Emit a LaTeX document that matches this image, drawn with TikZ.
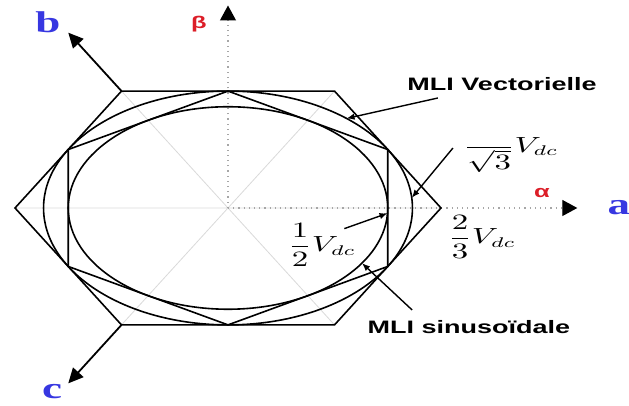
\documentclass[tikz,border=0pt]{standalone}
\usepackage{fontspec}
\newfontfamily\arialfont{Liberation Sans}
\newfontfamily\timesfont{Liberation Serif}
\usetikzlibrary{arrows.meta}
\definecolor{axisblue}{RGB}{55,55,225}
\definecolor{axisred}{RGB}{220,30,40}

\begin{document}
\begin{tikzpicture}[x=0.5pt, y=0.5pt, >={Latex[length=4pt,width=3.2pt]},
    wide/.style={inner sep=0pt, xscale=1.5, transform shape},
    mli/.style={wide, font=\fontsize{9}{10}\selectfont\bfseries\arialfont},
    greek/.style={wide, text=axisred, font=\fontsize{8.5}{9}\selectfont\bfseries\arialfont},
    phase/.style={wide, text=axisblue, font=\fontsize{15}{16}\selectfont\bfseries\timesfont},
    val/.style={wide, font=\fontsize{10.5}{12}\selectfont},
    hexline/.style={line width=0.8pt},
    guide/.style={gray!30, line width=0.4pt},
    axe/.style={dotted, draw=gray!70, line width=0.6pt, -{Triangle[length=7.5pt,width=8pt,color=black,fill=black]}},
    phasearrow/.style={line width=0.9pt, -{Triangle[length=7.5pt,width=7pt]}}]
    \useasboundingbox (0,0) rectangle (629,406);

    \begin{scope}[shift={(228,198)}, x=106.5pt, y=67.5pt]
        % 顶点定义
        \coordinate (O) at (0,0);
        \foreach \i in {0,...,5} {
            \coordinate (H\i) at (\i*60:1);
            \coordinate (R\i) at (30+\i*60:0.866);
        }
        % 辅助线
        \draw[guide] (H0) -- (H3) (H1) -- (H4) (H2) -- (H5);
        % alpha-beta 轴与 a, b, c 轴
        \coordinate (alphatip) at (1.64,0);
        \coordinate (betatip) at (0,1.5);
        \coordinate (btip) at (120:1.5);
        \coordinate (ctip) at (240:1.5);
        \draw[axe] (O) -- (alphatip);
        \draw[axe] (O) -- (betatip);
        \draw[phasearrow] (H2) -- (btip);
        \draw[phasearrow] (H4) -- (ctip);
        % 六边形与圆
        \draw[hexline] (H0) -- (H1) -- (H2) -- (H3) -- (H4) -- (H5) -- cycle;
        \draw[hexline] (R0) -- (R1) -- (R2) -- (R3) -- (R4) -- (R5) -- cycle;
        \draw[hexline] (O) circle[radius=0.866];
        \draw[hexline] (O) circle[radius=0.75];
        % 箭头落点
        \coordinate (vecend) at (50:0.866);
        \coordinate (thirdend) at (5:0.866);
        \coordinate (halfend) at (-3:0.75);
        \coordinate (sinend) at (-33:0.75);
    \end{scope}

    % 标注
    \node[mli] (vec) at (502,322) {MLI Vectorielle};
    \node[mli] (sin) at (469,79) {MLI sinusoïdale};
    \node[val] (third) at (511,258) {$\displaystyle\frac{\phantom{1}}{\sqrt{3}}V_{dc}$};
    \node[val] (twothird) at (482,169) {$\displaystyle\frac{2}{3}V_{dc}$};
    \node[val] (half) at (322,161) {$\displaystyle\frac{1}{2}V_{dc}$};
    \node[greek] (alpha) at (542,213) {α};
    \node[greek] (beta) at (199,382) {β};
    \node[phase] (a) at (619,198) {a};
    \node[phase] (b) at (48,384) {b};
    \node[phase] (c) at (52,14) {c};

    \draw[->, line width=0.7pt] ([shift={(31,-7)}]vec.south west) -- (vecend);
    \draw[->, line width=0.7pt] ([shift={(-10,0)}]third.west) -- (thirdend);
    \draw[->, line width=0.7pt] ([shift={(-12,-6)}]half.north east) -- (halfend);
    \draw[->, line width=0.7pt] ([shift={(45,10)}]sin.north west) -- (sinend);
\end{tikzpicture}
\end{document}
